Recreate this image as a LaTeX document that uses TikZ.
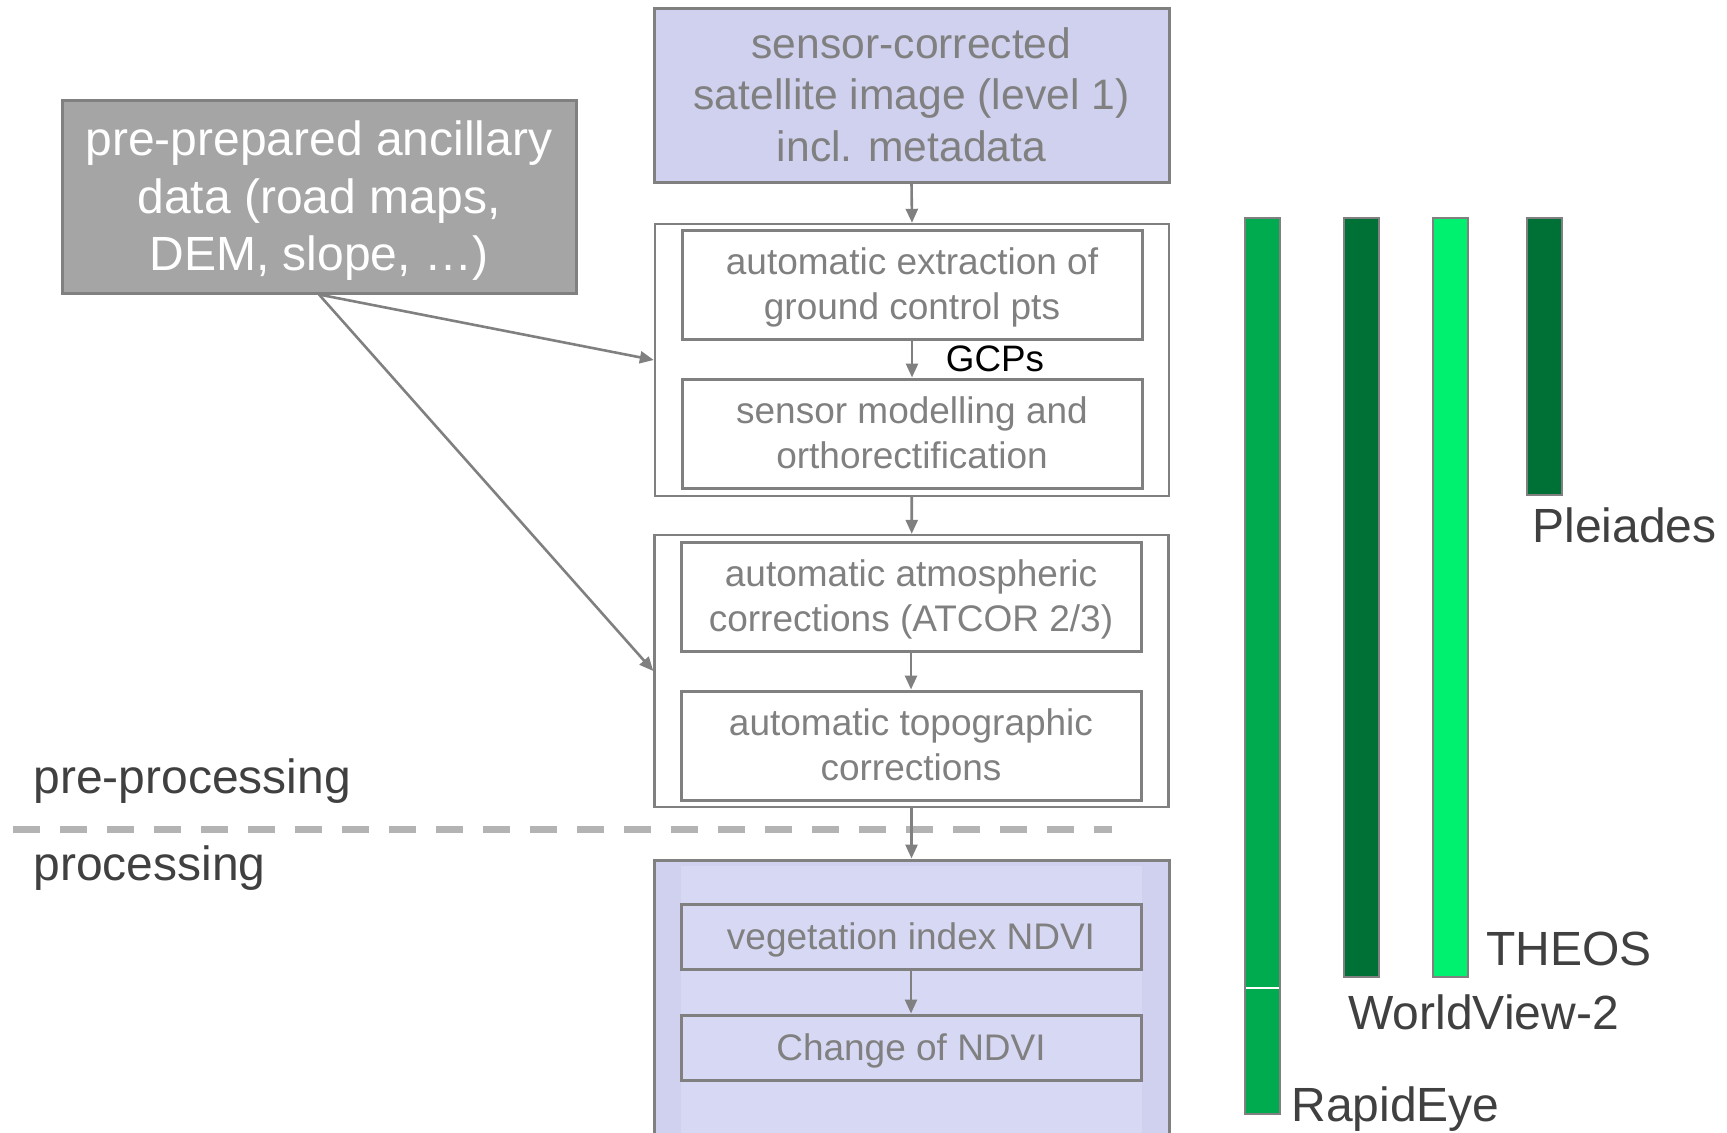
\documentclass[tikz,border=0pt]{standalone}
\usepackage{fontspec}
\setmainfont{Liberation Sans}
\usetikzlibrary{arrows.meta}
\definecolor{boxgray}{HTML}{808080}
\definecolor{lavender}{HTML}{CFD1EE}
\definecolor{lavlight}{HTML}{D7D8F4}
\definecolor{ancgray}{HTML}{A5A5A5}
\definecolor{labgray}{HTML}{404040}
\definecolor{dashgray}{HTML}{B3B3B3}
\definecolor{reGreen}{HTML}{00AA4F}
\definecolor{wvGreen}{HTML}{007136}
\definecolor{thGreen}{HTML}{00F070}
\newcommand{\fsz}[2]{\fontsize{#1}{#2}\selectfont}

\begin{document}
\begin{tikzpicture}[x=0.5pt,y=-0.5pt,
  % text height = lines above the last one + full ascent, so lines sit centred
  stepbox/.style={draw=boxgray,line width=1.5pt,text=boxgray,align=center,inner sep=0pt,
    text height=39.2pt,text depth=3.9pt,
    minimum width=230pt,minimum height=54.5pt,font=\fsz{18.5}{22.5}},
  groupbox/.style={draw=boxgray,line width=1.2pt,minimum width=257pt,minimum height=136pt},
  flow/.style={draw=boxgray,line width=1.3pt,-{Triangle[length=7pt,width=6pt]}},
  side/.style={anchor=west,inner sep=0pt,text=labgray,font=\fsz{24}{28}}]
\useasboundingbox (0,0) rectangle (1727,1132);
% input image and ancillary data
\node[draw=boxgray,line width=1.5pt,fill=lavender,text=boxgray,align=center,inner sep=0pt,
  text height=71.1pt,text depth=4.5pt,
  minimum width=257.5pt,minimum height=87pt,font=\fsz{21.3}{25.9}] (sat) at (911.5,95)
  {sensor-corrected\\satellite image (level 1)\\incl. metadata};
\node[draw=boxgray,line width=1.5pt,fill=ancgray,text=white,align=center,inner sep=0pt,
  text height=78.9pt,text depth=5.1pt,
  minimum width=257pt,minimum height=96.5pt,font=\fsz{24}{28.6}] (anc) at (319,196.5)
  {pre-prepared ancillary\\data (road maps,\\DEM, slope, …)};
% geometric correction
\node[groupbox] (geo) at (912,360) {};
\node[stepbox] (gcp) at (912,284.5) {automatic extraction of\\ground control pts};
\node[stepbox] (ortho) at (912,433.5) {sensor modelling and\\orthorectification};
\node[font=\fsz{18.4}{22}] (gcps) at (995,359) {GCPs};
% radiometric correction
\node[groupbox] (atm) at (911.5,671) {};
\node[stepbox] (atcor) at (911,596.5) {automatic atmospheric\\corrections (ATCOR 2/3)};
\node[stepbox] (topo) at (911,745.5) {automatic topographic\\corrections};
% pre-processing / processing split
\draw[dashgray,line width=3.5pt,dash pattern=on 13.5pt off 10pt] (13,829) -- (1112,829);
\node[side] (pre) at (33,781) {pre-processing};
\node[side] (post) at (33,868) {processing};
% processing
\node[draw=boxgray,line width=1.5pt,fill=lavender,minimum width=257.5pt,minimum height=140pt] (proc) at (911.5,1000) {};
\fill[lavlight] (681,866) rectangle (1142,1140);
\node[stepbox,text height=16.7pt,minimum height=32.5pt] (ndvi) at (911,936.5) {vegetation index NDVI};
\node[stepbox,text height=16.7pt,minimum height=32.5pt] (chg) at (911,1047.5) {Change of NDVI};
% flow
\draw[flow] (sat.south) -- (geo.north);
\draw[flow] (gcp) -- (ortho);
\draw[flow] (geo) -- (atm);
\draw[flow] (atcor) -- (topo);
\draw[flow] (atm) -- (proc);
\draw[flow] (ndvi) -- (chg);
\draw[flow] (anc.south) -- (geo.west);
\draw[flow] (anc.south) -- (atm.west);
% sensor bars
\foreach \xl/\yb/\col in {1245/1114/reGreen,1344/977/wvGreen,1433/977/thGreen,1527/495/wvGreen}
  \filldraw[fill=\col,draw=boxgray,line width=0.6pt] (\xl,218) rectangle (\xl+35,\yb);
\draw[white,line width=0.6pt] (1246,988) -- (1279,988);
\node[side] (ple) at (1532,525) {Pleiades};
\node[side] (theos) at (1486,949) {THEOS};
\node[side] (wv) at (1348,1012) {WorldView-2};
\node[side] (re) at (1291,1109) {RapidEye};
\end{tikzpicture}
\end{document}
